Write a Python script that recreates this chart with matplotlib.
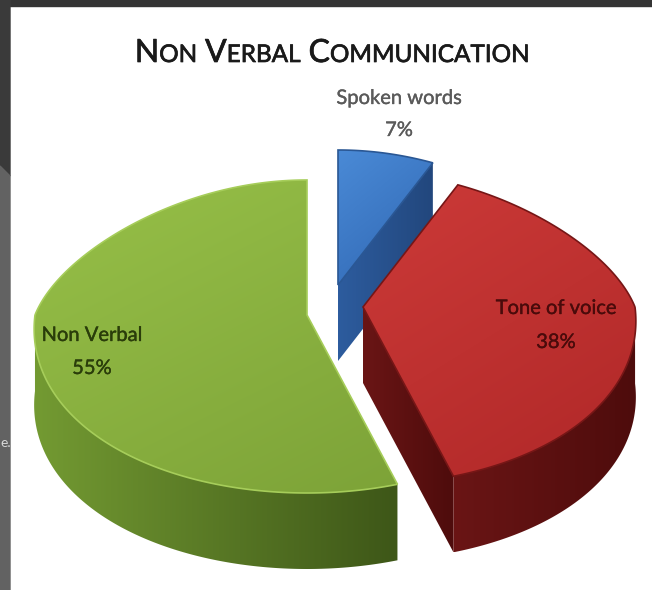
import numpy as np
import matplotlib
matplotlib.use('Agg')
import matplotlib.pyplot as plt
import matplotlib.patheffects as pe
from matplotlib.patches import Polygon
from matplotlib.colors import to_rgb

# Data
title = 'NON VERBAL COMMUNICATION'
labels = ['Spoken words', 'Tone of voice', 'Non Verbal']
values = [7, 38, 55]

# Style per slice: top colours (light, dark), wall colour, label colour
top_cols = [('#4a8ad6', '#2f66b2'), ('#cc3a38', '#b02828'), ('#97c048', '#7da338')]
wall_cols = [('#2d5c9e', '#22477d'), ('#6a1515', '#4e0c0c'), ('#739a32', '#3e5718')]
rim_cols = ['#2a5794', '#761616', '#a6cd5a']
lab_cols = ['#5a5a5a', '#4a0b0b', '#2a3d0a']

# Geometry of the tilted pie (pixels)
RX, RYB, RYF, DEPTH = 272, 135, 178, 76
centers = [(338, 285), (363, 307), (307, 315)]
lab_pos = [(399, 104, 136), (556, 314, 348), (92, 341, 374)]

plt.rcParams['font.family'] = ['Lato', 'DejaVu Sans']

fig = plt.figure(figsize=(6.52, 5.90), dpi=100)
ax = fig.add_axes([0, 0, 1, 1])
ax.set_xlim(0, 652)
ax.set_ylim(590, 0)
ax.axis('off')

# slide frame around the chart
ax.add_patch(Polygon([(0, 0), (652, 0), (652, 6), (0, 6)], color='#343434', zorder=1))
ax.add_patch(Polygon([(0, 0), (10, 0), (10, 176), (0, 166)], color='#3a3a3a', zorder=1))
ax.add_patch(Polygon([(0, 166), (10, 176), (10, 590), (0, 590)], color='#626262', zorder=1))
ax.text(0.5, 447, 'e.', ha='left', va='baseline', fontsize=10, color='#d8d8d8', zorder=1)


def proj(cx, cy, t, dz=0):
    s = np.sin(t)
    k = np.where(s > 0, 0.2, 0.08)
    x = cx + RX * np.cos(t) * (1 - k * s)
    y = cy - np.where(s > 0, RYB, RYF) * s + dz
    return np.column_stack([x, y])


def shade(verts, c1, c2, ang=90, z=2, edge=None):
    poly = Polygon(verts, closed=True, facecolor='none', edgecolor='none', zorder=z)
    ax.add_patch(poly)
    x0, x1 = verts[:, 0].min(), verts[:, 0].max()
    y0, y1 = verts[:, 1].min(), verts[:, 1].max()
    u, v = np.meshgrid(np.linspace(0, 1, 80), np.linspace(0, 1, 80))
    a = np.deg2rad(ang)
    tt = u * np.cos(a) + v * np.sin(a)
    tt = (tt - tt.min()) / (tt.max() - tt.min())
    c1, c2 = np.array(to_rgb(c1)), np.array(to_rgb(c2))
    img = c1[None, None, :] * (1 - tt[..., None]) + c2[None, None, :] * tt[..., None]
    im = ax.imshow(img, extent=(x0, x1, y1, y0), origin='upper', aspect='auto',
                   interpolation='bilinear', zorder=z)
    im.set_clip_path(poly)
    if edge is not None:
        ax.add_patch(Polygon(verts, closed=True, facecolor='none', edgecolor=edge,
                             linewidth=1.2, zorder=z + 0.01))


# slice angles, clockwise from 12 o'clock
fracs = np.array(values) / np.sum(values)
starts = np.pi / 2 - 2 * np.pi * np.concatenate([[0], np.cumsum(fracs)[:-1]])
ends = starts - 2 * np.pi * fracs

order = [0, 2, 1]
for n, i in enumerate(order):
    cx, cy = centers[i]
    a0, a1 = starts[i], ends[i]
    z = 3 + n
    # radial faces that face the viewer
    for a, nrm in [(a0, a0 + np.pi / 2), (a1, a1 - np.pi / 2)]:
        if np.sin(nrm) < -0.05:
            p = proj(cx, cy, np.array([a]))[0]
            face = np.array([[cx, cy], p, p + [0, DEPTH], [cx, cy + DEPTH]])
            shade(face, wall_cols[i][0], wall_cols[i][1], ang=0, z=z)
    # outer wall on the front half
    t = np.linspace(a0, a1, 300)
    tf = t[np.sin(t) < 0]
    if len(tf) > 1:
        top = proj(cx, cy, tf)
        bot = proj(cx, cy, tf, DEPTH)
        wall = np.vstack([top, bot[::-1]])
        shade(wall, wall_cols[i][0], wall_cols[i][1], ang=0, z=z + 0.1)
    # top surface
    rim = proj(cx, cy, t)
    topv = np.vstack([[cx, cy], rim])
    shade(topv, top_cols[i][0], top_cols[i][1], ang=60, z=z + 0.2, edge=rim_cols[i])

# slice labels
for i in range(len(labels)):
    x, y1, y2 = lab_pos[i]
    fx = [pe.withStroke(linewidth=0.25, foreground=lab_cols[i])]
    ax.text(x, y1, labels[i], ha='center', va='baseline', fontsize=14.5,
            color=lab_cols[i], zorder=10, path_effects=fx)
    ax.text(x, y2, f'{values[i]}%', ha='center', va='baseline', fontsize=14.5,
            color=lab_cols[i], zorder=10, path_effects=fx)

# title in small caps
renderer = fig.canvas.get_renderer()
pieces = []
x = 0
for w in title.split():
    for s, size in [(w[0], 23), (w[1:], 17.5)]:
        tx = ax.text(x, 62, s, fontsize=size, ha='left', va='baseline', color='#1a1a1a',
                     zorder=10, path_effects=[pe.withStroke(linewidth=0.5, foreground='#1a1a1a')])
        x += tx.get_window_extent(renderer).width
        pieces.append(tx)
    x += 8
width = x - 8
shift = 332 - width / 2
for tx in pieces:
    px, py = tx.get_position()
    tx.set_position((px + shift, py))

fig.savefig('out.png', dpi=100)
